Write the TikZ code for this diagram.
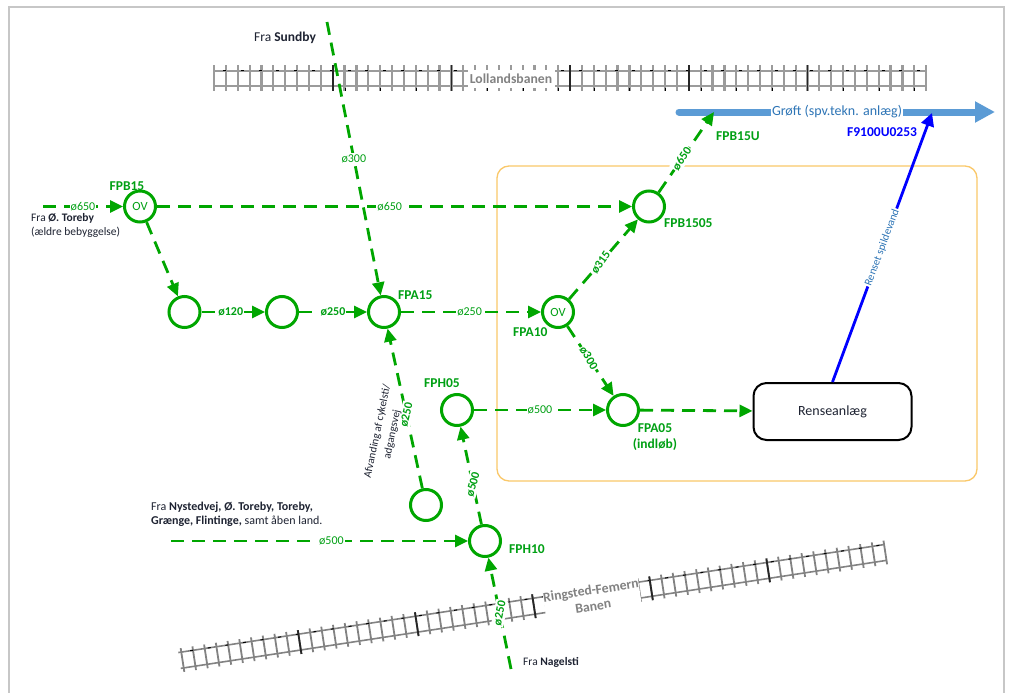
\documentclass[tikz,border=0pt]{standalone}
\usepackage{fontspec}
\setmainfont{Carlito}
\usetikzlibrary{arrows.meta}
\definecolor{pipeg}{RGB}{0,166,0}
\definecolor{labg}{RGB}{0,160,20}
\definecolor{ditch}{RGB}{91,155,213}
\definecolor{ditcht}{RGB}{46,117,182}
\definecolor{orangeb}{RGB}{250,200,105}
\definecolor{railg}{RGB}{130,130,130}
\definecolor{railh}{RGB}{155,155,155}
\definecolor{inkb}{RGB}{0,0,255}
\definecolor{txtd}{RGB}{30,35,50}
\tikzset{
  x=1pt,y=-1pt,
  well/.style={circle,draw=pipeg,line width=3pt,minimum size=31pt,inner sep=0pt,fill=white,text=labg,font=\fontsize{12.5}{14}\selectfont},
  pipe/.style={draw=pipeg,line width=2.8pt,dash pattern=on 13pt off 8pt,-{Triangle[length=13pt,width=12pt]}},
  lbl/.style={fill=white,text=labg,inner xsep=1pt,inner ysep=2pt,font=\fontsize{12}{13}\selectfont},
  lblb/.style={lbl,font=\bfseries\fontsize{12}{13}\selectfont},
  tag/.style={text=labg,inner sep=0pt,align=center,font=\bfseries\fontsize{13.5}{16}\selectfont},
  note/.style={text=txtd,inner sep=0pt,align=left,font=\fontsize{11}{14}\selectfont},
  rail/.style={draw=railg,line width=1.6pt},
  tie/.style={draw=railg,line width=1.8pt},
  railb/.style={draw=railh,line width=2pt},
  tieb/.style={draw=railh,line width=2.2pt},
  tick/.style={draw=black,line width=1pt},
  heavy/.style={draw=black!85,line width=1.8pt},
  track/.style={fill=white,text=railg,inner sep=0pt,align=center,font=\bfseries\fontsize{13.7}{16}\selectfont},
}
\begin{document}
\begin{tikzpicture}
\useasboundingbox (0,0) rectangle (1010,693);
\fill[white] (0,0) rectangle (1010,693);
\draw[draw=black!22,line width=2pt] (9,693) -- (9,7) -- (1004,7) -- (1004,693);

% Lollandsbanen
\draw[railb] (214,71) -- (926,71) (214,86.5) -- (926,86.5);
\foreach \k in {0,...,60} \draw[tieb] ({214+11.87*\k},65.5) -- ({214+11.87*\k},91.5);
\foreach \k in {0,...,39} \draw[tick] ({223+17.8*\k},71) -- ({226+17.8*\k},71);
\foreach \k in {0,...,16} \draw[tick] ({345+35.6*\k},88.5) -- ({345+35.6*\k},91);
\foreach \k in {10,20,30,40,50} \draw[heavy] ({214+11.87*\k},65.5) -- ({214+11.87*\k},91.5);
\node[track,minimum width=87pt,minimum height=18pt] (lolland) at (511,79) {Lollandsbanen};

% Ringsted-Femern
\begin{scope}[shift={(182.5,660)},rotate=8.7]
  \draw[rail] (-3,-8) -- (711,-8) (-3,8) -- (711,8);
  \foreach \k in {0,...,60} \draw[tie] ({11.85*\k},-12) -- ({11.85*\k},12);
  \foreach \k in {0,...,39} \draw[tick] ({9+17.8*\k},-8) -- ({12+17.8*\k},-8);
  \foreach \k in {10,20,30,40,50} \draw[heavy] ({11.85*\k},-12) -- ({11.85*\k},12);
\end{scope}
\node[track,rotate=8.7,minimum height=32pt] (ringsted) at (592,598) {Ringsted-Femern\\Banen};

% Orange boundary
\draw[draw=orangeb,line width=1.3pt,rounded corners=12pt] (497,166) rectangle (977,481);

% Ditch
\coordinate (ditchA) at (679,112);
\coordinate (ditchB) at (995,112);
\draw[draw=ditch,line width=7pt,line cap=round,-{Triangle[length=20pt,width=20pt]}] (ditchA) -- node[pos=.5,fill=white,text=ditcht,inner sep=1pt,font=\fontsize{14}{15}\selectfont] (ditchlabel) {Grøft (spv.tekn. anlæg)} (ditchB);

% Nodes
\node[well] (FPB15) at (140,206.5) {OV};
\node[well] (n1) at (184.5,312) {};
\node[well] (n2) at (282,312) {};
\node[well] (FPA15) at (384,312) {};
\node[well] (FPA10) at (558,312) {OV};
\node[well] (FPB1505) at (649,206.5) {};
\node[well] (FPA05) at (623,410) {};
\node[well] (FPH05) at (457,410) {};
\node[well] (afv) at (426,505) {};
\node[well] (FPH10) at (485,541) {};
\node[draw=black,line width=2pt,rounded corners=13pt,minimum width=158pt,minimum height=57pt,inner sep=0pt,text=txtd,font=\fontsize{14}{16}\selectfont] (rens) at (832.5,411.5) {Renseanlæg};

\coordinate (fromToreby) at (43,206.5);
\coordinate (fromSundby) at (327,22);
\coordinate (fromNyst) at (171,541);
\coordinate (fromNagel) at (511,669);
\coordinate (toU) at (714,112);
\coordinate (toF) at (932,113);

% Connectors
\draw[pipe] (fromToreby) -- node[lbl,pos=.5] (l1) {ø650} (FPB15);
\draw[pipe] (FPB15) -- node[lbl,pos=.49] (l2) {ø650} (FPB1505);
\draw[pipe] (FPB15) -- (n1);
\draw[pipe] (n1) -- node[lblb,pos=.46] (l3) {ø120} (n2);
\draw[pipe] (n2) -- node[lblb,pos=.5] (l4) {ø250} (FPA15);
\draw[pipe] (FPA15) -- node[lbl,pos=.49] (l5) {ø250} (FPA10);
\draw[pipe] (fromSundby) -- node[lbl,pos=.5] (l6) {ø300} (FPA15);
\draw[pipe] (FPA10) -- node[lblb,pos=.46,rotate=55] (l7) {ø315} (FPB1505);
\draw[pipe] (FPA10) -- node[lblb,pos=.46,rotate=-60] (l8) {ø300} (FPA05);
\draw[pipe] (FPA05) -- (rens);
\draw[pipe] (FPH05) -- node[lbl,pos=.5] (l9) {ø500} (FPA05);
\draw[pipe] (FPH10) -- node[lblb,pos=.41,rotate=74] (l10) {ø500} (FPH05);
\draw[pipe] (afv) -- node[lblb,pos=.46,rotate=77] (l11) {ø250} (FPA15);
\draw[pipe] (fromNyst) -- node[lbl,pos=.54] (l12) {ø500} (FPH10);
\draw[pipe] (fromNagel) -- node[lblb,pos=.5,rotate=78] (l13) {ø250} (FPH10);
\draw[pipe] (FPB1505) -- node[lblb,pos=.42,rotate=56] (l14) {ø650} (toU);
\draw[draw=inkb,line width=2.8pt,-{Triangle[length=13pt,width=13pt]}] (rens.north) -- node[pos=.5,rotate=69.7,fill=white,text=ditcht,inner sep=1pt,font=\fontsize{11}{12}\selectfont] (l15) {Renset spildevand} (toF);

% Tags
\node[tag] (tFPB15) at (127,186) {FPB15};
\node[tag,anchor=west] (tFPB15U) at (716,136) {FPB15U};
\node[tag,anchor=west,text=inkb] (tF91) at (847,132) {F9100U0253};
\node[tag,anchor=west] (tFPB1505) at (664,223) {FPB1505};
\node[tag,anchor=west] (tFPA15) at (398,295) {FPA15};
\node[tag,anchor=west] (tFPA10) at (513,332) {FPA10};
\node[tag,anchor=west] (tFPH05) at (424,383) {FPH05};
\node[tag] (tFPA05) at (655,437) {FPA05\\(indløb)};
\node[tag,anchor=west] (tFPH10) at (509,549) {FPH10};

% Notes
\node[note,anchor=west,font=\fontsize{13.5}{15}\selectfont] (nSund) at (254,38) {Fra \textbf{Sundby}};
\node[note,anchor=west,font=\fontsize{11.5}{14}\selectfont] (nTor) at (31,225) {Fra \textbf{Ø. Toreby}\\(ældre bebyggelse)};
\node[note,anchor=west,font=\fontsize{12}{14}\selectfont] (nNyst) at (151,514) {Fra \textbf{Nystedvej, Ø. Toreby, Toreby,}\\\textbf{Grænge, Flintinge,} samt åben land.};
\node[note,anchor=west,font=\fontsize{11.5}{14}\selectfont] (nNag) at (523,662) {Fra \textbf{Nagelsti}};
\node[note,align=center,rotate=78,font=\fontsize{11}{15}\selectfont] (nAfv) at (385,433) {Afvanding af cykelsti/\\adgangsvej};
\end{tikzpicture}
\end{document}
